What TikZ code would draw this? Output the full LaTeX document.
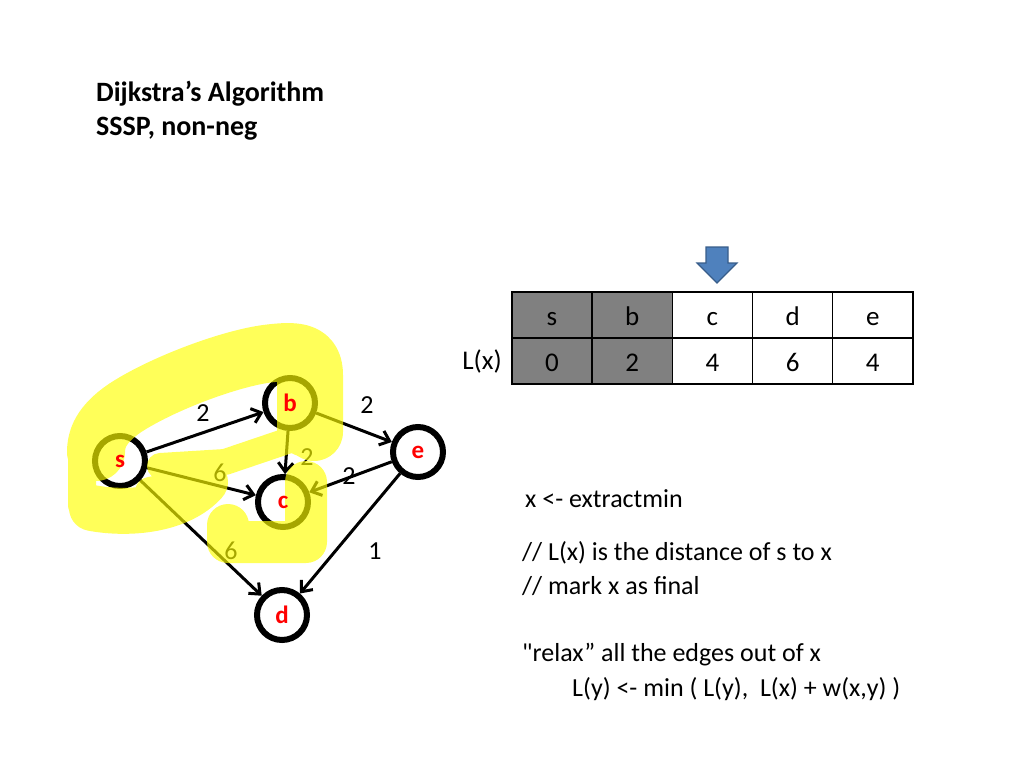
\documentclass[tikz,border=0pt]{standalone}
\usepackage{fontspec}
\setmainfont{Carlito}[Ligatures=TeXOff]
\usetikzlibrary{arrows.meta}
\definecolor{hlyellow}{RGB}{255,255,0}
\definecolor{arrowblue}{RGB}{79,129,189}
\definecolor{arrowrim}{RGB}{56,93,138}
\definecolor{cellgray}{RGB}{128,128,128}
\begin{document}
\fontsize{26}{34}\selectfont
\begin{tikzpicture}[x=1pt,y=-1pt,
  vertex/.style={circle,draw,line width=6pt,minimum size=50pt,inner sep=0pt},
  vname/.style={text=red,font=\fontsize{25}{30}\selectfont\bfseries,inner sep=0pt},
  edge/.style={line width=3pt,-{Straight Barb[length=9pt,width=15pt]}},
  cell/.style={draw,line width=1.5pt,minimum width=80.2pt,minimum height=46pt,inner sep=0pt,
    text height=24pt,text depth=4pt,font=\fontsize{27}{34}\selectfont},
  marker/.style={hlyellow,line cap=round,line join=round},
  line/.style={anchor=base west,inner sep=0pt}]
\useasboundingbox (0,0) rectangle (1024,768);
% title
\node[line,font=\fontsize{28}{34}\selectfont\bfseries] (title1) at (96,101) {Dijkstra’s Algorithm};
\node[line,font=\fontsize{28}{34}\selectfont\bfseries] (title2) at (96,135) {SSSP, non-neg};
% graph
\node[vertex] (s) at (120,461) {};
\node[vertex] (b) at (290,403) {};
\node[vertex] (e) at (418,452) {};
\node[vertex] (c) at (283,502) {};
\node[vertex] (d) at (282,615) {};
\draw[edge] (s) -- (b);
\draw[edge] (s) -- (c);
\draw[edge] (s) -- (d);
\draw[edge] (b) -- (e);
\draw[edge] (b) -- (c);
\draw[edge] (e) -- (c);
\draw[edge] (e) -- (d);
\node (wsb) at (203,413) {2};
\node (wbe) at (367,405) {2};
\node (wsc) at (220,473) {6};
\node (wbc) at (307,457) {2};
\node (wec) at (349,476) {2};
\node (wsd) at (231,551) {6};
\node (wed) at (375,551) {1};
% highlighter
\begin{scope}[transparency group,opacity=0.65]
\draw[marker,line width=58pt] (314,432) -- (314,375) .. controls (314,350) and (295,350) .. (265,354)
  .. controls (225,360) and (160,385) .. (125,408) .. controls (100,425) and (96,440) .. (96,452);
\draw[marker,line width=58pt] (306,360) -- (306,428);
\draw[marker,line width=28pt] (82,450) -- (82,505);
\draw[marker,line width=46pt] (92,508) .. controls (130,515) and (180,510) .. (205,482);
\draw[marker,line width=30pt] (150,492) -- (196,482);
\draw[marker,line width=26pt] (160,466) -- (225,462) -- (290,440);
\draw[marker,line width=42pt] (228,525) -- (228,542) -- (306,542) -- (306,482);
\end{scope}
\node[vname] (sname) at (s) {s};
\node[vname] (bname) at (b) {b};
\node[vname] (ename) at (e) {e};
\node[vname] (cname) at (c) {c};
\node[vname] (dname) at (d) {d};
% table
\foreach \lab/\val/\shade [count=\i from 0] in {s/0/cellgray,b/2/cellgray,c/4/white,d/6/white,e/4/white}{
  \node[cell,fill=\shade] (h\lab) at (552+80.2*\i,315) {\lab};
  \node[cell,fill=\shade] (v\lab) at (552+80.2*\i,361) {\val};
}
\node[anchor=east,inner sep=0pt,font=\fontsize{27}{34}\selectfont] (lx) at (502,361) {L(x)};
\draw[fill=arrowblue,draw=arrowrim,line width=1.2pt] (706,247) -- (728,247) -- (728,263) -- (737,263)
  -- (717,283) -- (697,263) -- (706,263) -- cycle;
% pseudo code
\node[line] (extract) at (525,507) {x <- extractmin};
\node[line] (note1) at (522,560) {// L(x) is the distance of s to x};
\node[line] (note2) at (522,594) {// mark x as final};
\node[line] (relax) at (522,661) {"relax” all the edges out of x};
\node[line] (update) at (572,696) {L(y) <- min ( L(y),\ \ L(x) + w(x,y) )};
\end{tikzpicture}
\end{document}
